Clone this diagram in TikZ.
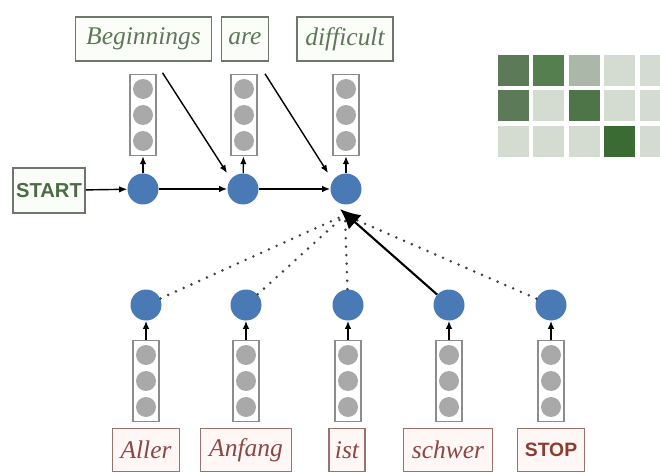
\documentclass[tikz,border=0pt]{standalone}
\usepackage{fontspec}
\setmainfont{Liberation Serif}
\newfontfamily\labelsans{Liberation Sans}
\usetikzlibrary{arrows.meta,calc}

\definecolor{nodeblue}{HTML}{4A7AB5}
\definecolor{dotgray}{HTML}{A9A9A9}
\definecolor{stackline}{HTML}{8C8C8C}
\definecolor{srcline}{HTML}{9C716B}
\definecolor{srcfill}{HTML}{FFF7F5}
\definecolor{srctext}{HTML}{8A4744}
\definecolor{stoptext}{HTML}{8E3A2E}
\definecolor{tgtline}{HTML}{6E776B}
\definecolor{tgtfill}{HTML}{FBFDF8}
\definecolor{tgttext}{HTML}{5E7758}
\definecolor{starttext}{HTML}{4B6B45}
% attention matrix shades
\definecolor{mA}{HTML}{5D7A58}
\definecolor{mB}{HTML}{557F4F}
\definecolor{mC}{HTML}{ABB7A8}
\definecolor{mD}{HTML}{D4DBD1}
\definecolor{mE}{HTML}{4D7548}
\definecolor{mF}{HTML}{3A6B33}

\def\px{0.02cm}

\begin{document}
\begin{tikzpicture}[x=0.02cm,y=-0.02cm,
  wordfont/.style={font=\itshape\fontsize{14.5}{16}\selectfont},
  tgtbox/.style={draw=tgtline, line width=0.9pt, fill=tgtfill, text=tgttext,
    wordfont, inner sep=0pt, minimum height=44*\px},
  srcbox/.style={draw=srcline, line width=0.9pt, fill=srcfill, text=srctext,
    wordfont, inner sep=0pt, minimum height=43*\px},
  hid/.style={circle, fill=nodeblue, minimum size=31*\px, inner sep=0pt},
  stackbox/.style={draw=stackline, line width=0.8pt, fill=white,
    minimum width=26*\px, minimum height=81*\px, inner sep=0pt},
  link/.style={line width=0.8pt, -{Latex[length=1.6mm,width=1.3mm]}},
  attn/.style={line width=1.6pt, line cap=round, dash pattern=on 0pt off 8.5*\px, black!75},
  vstack/.pic={
    \node[stackbox] (-box) {};
    \foreach \dy in {-26,0,26} \fill[dotgray] (0,\dy) circle (10);
  }]
\useasboundingbox[fill=white] (0,0) rectangle (660,473);

% target words
\node[tgtbox, minimum width=136*\px] (beg) at (143.5,39) {Beginnings};
\node[tgtbox, minimum width=47*\px]  (are) at (245,39) {are};
\node[tgtbox, minimum width=96*\px]  (dif) at (345,39) {difficult};

% decoder states with their output vectors
\node[hid] (c1) at (143,189) {};
\node[hid] (c2) at (243,189) {};
\node[hid] (c3) at (346,189) {};
\pic (t1) at (143,115) {vstack};
\pic (t2) at (244,115) {vstack};
\pic (t3) at (346,115) {vstack};

\node[draw=tgtline, line width=0.9pt, fill=tgtfill, text=starttext,
  font=\labelsans\bfseries\fontsize{11.5}{12}\selectfont,
  minimum width=72*\px, minimum height=45*\px, inner sep=0pt] (start) at (49,190.5) {START};

\draw[link] (start) -- (c1);
\draw[link] (c1) -- (c2);
\draw[link] (c2) -- (c3);
\foreach \i in {1,2,3} \draw[link] (c\i) -- (t\i-box);

% previous word fed into the next state
\draw[link] ($(beg.south)+(19,11)$) -- ($(c2)+(-16,-16)$);
\draw[link] ($(are.south)+(20,12)$) -- ($(c3)+(-18,-16)$);

% source words, embeddings and encoder states
\foreach \n/\x/\w/\t in {1/146/67/Aller, 2/246/91/Anfang, 3/347/36/ist, 4/448/89/schwer} {
  \node[srcbox, minimum width=\w*\px] (w\n) at (\x,450) {\t};
}
\node[srcbox, minimum width=67*\px, text=stoptext,
  font=\labelsans\bfseries\fontsize{11}{12}\selectfont] (w5) at (551,450) {STOP};

\foreach \n/\x in {1/146, 2/246, 3/348, 4/449, 5/551} {
  \node[hid] (b\n) at (\x,305) {};
  \pic (s\n) at (\x,381) {vstack};
  \draw[link] (s\n-box) -- (b\n);
}

% attention over the encoder states
\coordinate (hub) at ($(c3)+(-1,26)$);
\foreach \n in {1,2,3,5} \draw[attn] (b\n) -- (hub);
\draw[line width=1.2pt, -{Latex[length=4mm,width=3.8mm]}] (b4) -- ($(c3)+(-6,20)$);

% attention weights
\begin{scope}
\clip (460,30) rectangle (660,180);
\foreach \row/\cols in {0/{mA,mB,mC,mD,mD}, 1/{mA,mD,mE,mD,mD}, 2/{mD,mD,mD,mF,mD}} {
  \foreach \c [count=\k from 0] in \cols {
    \fill[\c] (498+35.4*\k,55+35.5*\row) rectangle ++(31,31);
  }
}
\end{scope}
\end{tikzpicture}
\end{document}
